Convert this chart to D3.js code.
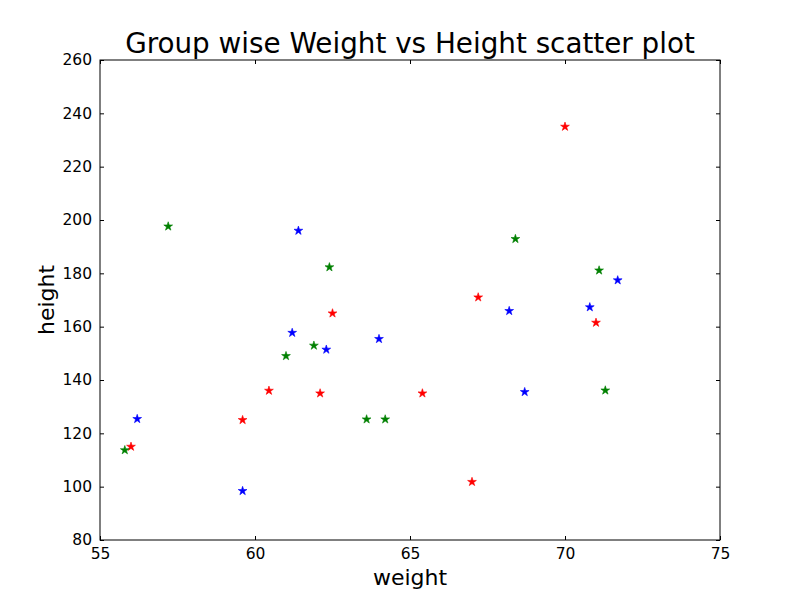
<!DOCTYPE html>
<html>
<head>
<meta charset="utf-8">
<script src="https://cdn.jsdelivr.net/npm/d3@7"></script>
<style>
html,body{margin:0;padding:0;background:#fff;}
svg{display:block;font-family:"DejaVu Sans",sans-serif;}
</style>
</head>
<body>
<svg id="chart" width="800" height="600"></svg>
<script>
const title = "Group wise Weight vs Height scatter plot";
const xLabel = "weight";
const yLabel = "height";
const xTicks = [55, 60, 65, 70, 75];
const yTicks = [80, 100, 120, 140, 160, 180, 200, 220, 240, 260];

const redWeight  = [56.0, 59.6, 60.45, 62.1, 62.5, 65.4, 67.0, 67.2, 70.0, 71.0];
const redHeight  = [115, 125, 136, 135, 165, 135, 101.8, 171, 235, 161.5];
const blueWeight = [56.2, 59.6, 61.4, 61.2, 62.3, 64.0, 68.2, 70.8, 71.7, 68.7];
const blueHeight = [125.4, 98.4, 196, 157.7, 151.4, 155.4, 165.9, 167.3, 177.4, 135.5];
const greenWeight = [55.8, 57.2, 62.4, 61.0, 61.9, 63.6, 64.2, 68.4, 71.1, 71.3];
const greenHeight = [113.7, 197.6, 182.3, 149, 152.9, 125.25, 125.25, 192.9, 181.1, 136.1];

const groups = [
  {color: "#ff0000", w: redWeight, h: redHeight},
  {color: "#0000ff", w: blueWeight, h: blueHeight},
  {color: "#008000", w: greenWeight, h: greenHeight}
];

const svg = d3.select("#chart");
const L = 100, R = 720, T = 60, B = 540;
const x = d3.scaleLinear().domain([55, 75]).range([L, R]);
const y = d3.scaleLinear().domain([80, 260]).range([B, T]);

svg.append("rect").attr("x",0).attr("y",0).attr("width",800).attr("height",600).attr("fill","#fff");

// points
const star = d3.symbol().type(d3.symbolStar).size(24);
groups.forEach(g => {
  svg.append("g").selectAll("path")
    .data(g.w.map((w,i)=>({w, h: g.h[i]})))
    .join("path")
    .attr("d", star)
    .attr("transform", d => `translate(${x(d.w)},${y(d.h)})`)
    .attr("fill", g.color)
    .attr("stroke", g.color)
    .attr("stroke-width", 0.6);
});

// axes: inward ticks on all four sides
const fs = 15.5;
const axB = d3.axisBottom(x).tickValues(xTicks).tickSizeInner(-4).tickSizeOuter(0).tickPadding(8).tickFormat(d3.format("d"));
const axT = d3.axisTop(x).tickValues(xTicks).tickSizeInner(-4).tickSizeOuter(0).tickFormat("");
const axL = d3.axisLeft(y).tickValues(yTicks).tickSizeInner(-4).tickSizeOuter(0).tickPadding(8).tickFormat(d3.format("d"));
const axR = d3.axisRight(y).tickValues(yTicks).tickSizeInner(-4).tickSizeOuter(0).tickFormat("");

function styleAxis(g){
  g.select(".domain").remove();
  g.selectAll("line").attr("stroke","#000").attr("stroke-width",1);
  g.selectAll("text").attr("fill","#000").style("font-size", fs+"px").style("font-family","DejaVu Sans");
}
svg.append("g").attr("transform",`translate(0,${B})`).call(axB).call(styleAxis);
svg.append("g").attr("transform",`translate(0,${T})`).call(axT).call(styleAxis);
svg.append("g").attr("transform",`translate(${L},0)`).call(axL).call(styleAxis);
svg.append("g").attr("transform",`translate(${R},0)`).call(axR).call(styleAxis);

// frame
svg.append("rect").attr("x",L).attr("y",T).attr("width",R-L).attr("height",B-T)
  .attr("fill","none").attr("stroke","#000").attr("stroke-width",1);

// title & labels
svg.append("text").attr("x",(L+R)/2).attr("y",53).attr("text-anchor","middle")
  .style("font-size","27.8px").attr("fill","#000").text(title);
svg.append("text").attr("x",(L+R)/2).attr("y",585).attr("text-anchor","middle")
  .style("font-size","22px").attr("fill","#000").text(xLabel);
svg.append("text").attr("transform",`translate(54,${(T+B)/2}) rotate(-90)`).attr("text-anchor","middle")
  .style("font-size","22px").attr("fill","#000").text(yLabel);
</script>
</body>
</html>
